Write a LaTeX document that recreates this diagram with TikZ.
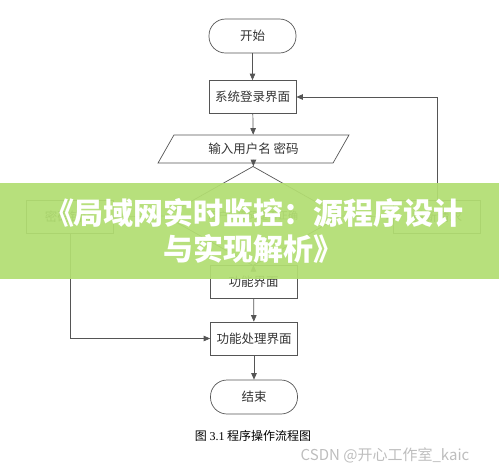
\documentclass[tikz,border=0pt]{standalone}
\usepackage{fontspec}
\setmainfont{Liberation Serif}
\newfontfamily\cjk{Noto Sans CJK SC}
\usetikzlibrary{arrows.meta,shapes.geometric}
\definecolor{ink}{HTML}{555555}
\definecolor{textgray}{HTML}{333333}
\definecolor{bannergreen}{HTML}{B2DE72}
\definecolor{markgray}{HTML}{BDBDBD}

\begin{document}
\begin{tikzpicture}[
  x=1pt, y=-1pt,
  font={\cjk\fontsize{12.5}{14}\selectfont},
  >={Triangle[length=6.5pt, width=5.5pt]},
  box/.style={draw=ink, line width=0.7pt, text=textgray, align=center,
    minimum width=87pt, minimum height=33pt, inner sep=2pt},
  terminal/.style={box, rounded corners=16.5pt, minimum height=34pt},
  inputbox/.style={box, trapezium, trapezium left angle=59, trapezium right angle=121,
    trapezium stretches=true, minimum width=191pt, minimum height=28pt},
  decision/.style={box, diamond, minimum width=176pt, minimum height=50pt, inner sep=0pt,
    font={\cjk\fontsize{10}{12}\selectfont}},
  flow/.style={->, draw=ink, line width=0.7pt},
  caption/.style={text=black, font={\cjk\fontsize{12}{14}\selectfont}},
  watermark/.style={text=markgray, font={\cjk\fontsize{15}{17}\selectfont}},
  bannertext/.style={text=white, align=center, font={\cjk\bfseries\fontsize{30}{36}\selectfont}}
]
\useasboundingbox (0,0) rectangle (499,464);

% ---------------------------------------------------------------------------
% main column
% ---------------------------------------------------------------------------
\node[terminal] (start) at (252.5,36) {开始};
\node[box] (login) at (252.5,97) {系统登录界面};
\node[inputbox] (input) at (253.5,149) {输入用户名 密码};
\node[decision] (check) at (253,216) {用户名密码是否正确};
\node[box] (menu) at (253.5,282) {功能界面};
\node[box] (proc) at (254,338.5) {功能处理界面};
\node[terminal] (stop) at (254,397) {结束};

\draw[flow] (start) -- (login);
\draw[flow] (login) -- (input);
\draw[flow] (input) -- (check);
\draw[flow] (check) -- (menu);
\draw[flow] (menu) -- (proc);
\draw[flow] (proc) -- (stop);

% ---------------------------------------------------------------------------
% side branches
% ---------------------------------------------------------------------------
\node[box] (wrong) at (70,217) {密码错误};
\node[box] (retry) at (437,217) {重新请求};

\draw[flow] (check.west) -- (wrong.east);
\draw[flow] (check.east) -- (retry.west);
\draw[flow] (wrong.south) |- (proc.west);
\draw[flow] (retry.north) |- (login.east);

\node[caption] (title) at (253,436) {图 {\rmfamily 3.1} 程序操作流程图};
\node[watermark] (mark) at (385,455) {CSDN @开心工作室\_kaic};

% ---------------------------------------------------------------------------
% banner over the middle
% ---------------------------------------------------------------------------
\fill[bannergreen, opacity=0.93] (0,183) rectangle (499,279);
\node[bannertext] (banner) at (254,231) {《局域网实时监控：源程序设计\\与实现解析》};

\end{tikzpicture}
\end{document}
